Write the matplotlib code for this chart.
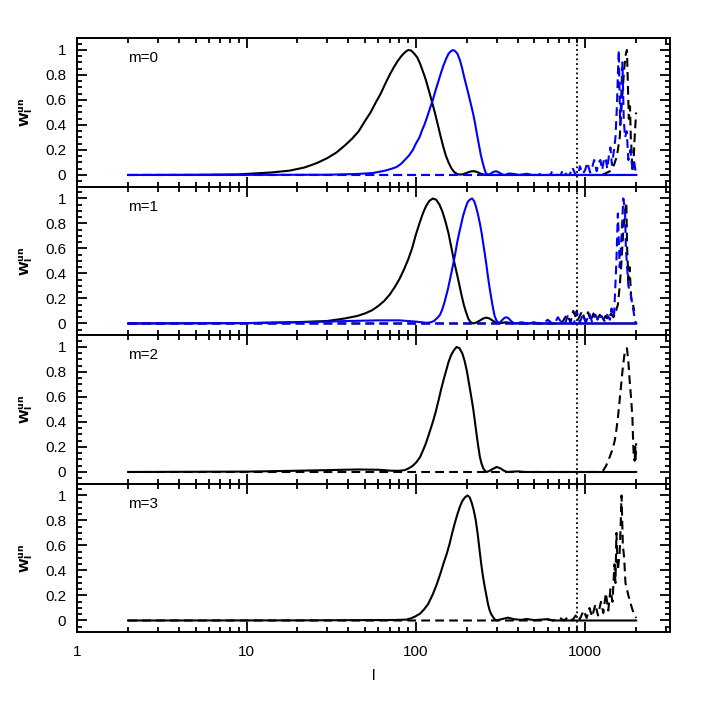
import numpy as np
import matplotlib
matplotlib.use("Agg")
import matplotlib.pyplot as plt
from matplotlib.ticker import LogLocator, FixedLocator, MultipleLocator, FuncFormatter, NullFormatter

plt.rcParams['font.family'] = ['Liberation Sans', 'DejaVu Sans']

# ---- data (l, W_l^un) ----
# m=0
l_m0_black = [2, 5, 9, 14, 18, 22, 26, 30, 34, 38, 42, 46, 50, 54, 58, 62, 66, 70, 74, 78, 82, 86, 90, 94, 98,
              102, 106, 110, 114, 118, 122, 126, 130, 135, 140, 145, 150, 156, 162, 168, 175, 182, 190, 198,
              206, 214, 222, 230, 240, 250, 261, 2000]
w_m0_black = [0, 0.001, 0.005, 0.02, 0.035, 0.06, 0.095, 0.135, 0.18, 0.235, 0.29, 0.35, 0.43, 0.5, 0.58, 0.65,
              0.73, 0.8, 0.86, 0.91, 0.95, 0.98, 1.0, 0.995, 0.97, 0.94, 0.89, 0.83, 0.77, 0.7, 0.63, 0.56, 0.49,
              0.4, 0.31, 0.23, 0.16, 0.1, 0.055, 0.025, 0.008, 0.003, 0.006, 0.015, 0.024, 0.03, 0.03, 0.024,
              0.012, 0.004, 0, 0]
l_m0_blue = [2, 30, 45, 56, 66, 72, 77, 82, 86, 91, 96, 100, 105, 109, 113, 117, 121, 126, 131, 136, 141, 146,
             151, 156, 161, 166, 171, 176, 182, 188, 194, 200, 206, 212, 218, 224, 230, 236, 242, 248, 254, 259,
             266, 275, 287, 298, 310, 322, 335, 355, 380, 410, 450, 490, 2000]
w_m0_blue = [0, 0.002, 0.008, 0.016, 0.035, 0.05, 0.064, 0.09, 0.12, 0.155, 0.2, 0.25, 0.3, 0.36, 0.41, 0.47,
             0.53, 0.6, 0.68, 0.75, 0.82, 0.88, 0.93, 0.97, 0.99, 1.0, 0.99, 0.97, 0.92, 0.85, 0.77, 0.7, 0.63,
             0.56, 0.49, 0.41, 0.32, 0.24, 0.16, 0.1, 0.05, 0.015, 0.003, 0.008, 0.025, 0.03, 0.02, 0.006, 0,
             0.012, 0.008, 0, 0.01, 0, 0]
l_m0_black_dash = [2, 1250, 1300, 1400, 1480, 1540, 1600, 1650, 1700, 1740, 1765, 1790, 1810, 1840, 1860, 1880,
                   1900, 1930, 1960, 2000]
w_m0_black_dash = [0, 0, 0.01, 0.03, 0.08, 0.15, 0.3, 0.6, 0.85, 0.97, 1.0, 0.7, 0.45, 0.55, 0.3, 0.2, 0.03,
                   0.1, 0.3, 0.5]
l_m0_blue_dash = [2, 440, 457, 475, 530, 550, 580, 620, 640, 680, 715, 740, 780, 810, 840, 880, 910, 930, 970,
                  1000, 1030, 1070, 1100, 1130, 1170, 1200, 1230, 1260, 1290, 1320, 1350, 1380, 1410, 1440, 1480,
                  1510, 1540, 1560, 1580, 1610, 1640, 1660, 1690, 1720, 1760, 1800, 1850, 1900, 1950, 2000]
w_m0_blue_dash = [0, 0, 0.01, 0, 0, 0.015, 0, 0, 0.03, 0, 0, 0.04, 0, 0, 0.06, 0, 0, 0.07, 0.01, 0.04, 0.1,
                  0.02, 0.06, 0.12, 0.03, 0.1, 0.12, 0.04, 0.12, 0.14, 0.05, 0.15, 0.22, 0.08, 0.2, 0.3, 0.55,
                  0.8, 1.0, 0.4, 0.7, 0.9, 0.45, 0.3, 0.35, 0.12, 0.2, 0.05, 0.1, 0]

# m=1
l_m1_black = [2, 10, 19, 30, 38, 45, 50, 55, 60, 65, 70, 75, 80, 85, 90, 95, 100, 105, 110, 115, 120, 126, 132,
              138, 144, 150, 156, 162, 168, 174, 180, 186, 192, 198, 204, 210, 218, 228, 240, 250, 261, 272,
              283, 295, 310, 340, 380, 2000]
w_m1_black = [0, 0.003, 0.01, 0.02, 0.04, 0.06, 0.08, 0.105, 0.14, 0.18, 0.23, 0.29, 0.355, 0.43, 0.51, 0.6,
              0.71, 0.8, 0.88, 0.94, 0.98, 1.0, 0.99, 0.95, 0.89, 0.81, 0.72, 0.61, 0.5, 0.41, 0.32, 0.23, 0.15,
              0.09, 0.04, 0.012, 0, 0.008, 0.025, 0.04, 0.047, 0.04, 0.025, 0.01, 0, 0.01, 0, 0]
l_m1_blue = [2, 10, 25, 40, 60, 80, 100, 116, 123, 128, 134, 139, 143, 147, 151, 155, 159, 163, 167, 171, 175,
             180, 185, 190, 196, 202, 208, 215, 221, 227, 233, 239, 245, 250, 256, 261, 267, 273, 280, 286, 292,
             298, 306, 315, 325, 334, 343, 354, 365, 377, 390, 420, 460, 500, 540, 2000]
w_m1_blue = [0, 0.003, 0.012, 0.02, 0.025, 0.025, 0.015, 0.005, 0.01, 0.02, 0.045, 0.07, 0.11, 0.16, 0.22, 0.28,
             0.35, 0.42, 0.49, 0.56, 0.64, 0.72, 0.79, 0.86, 0.92, 0.97, 0.99, 1.0, 0.98, 0.93, 0.87, 0.8, 0.72,
             0.64, 0.55, 0.47, 0.37, 0.28, 0.19, 0.12, 0.06, 0.03, 0.005, 0.01, 0.03, 0.045, 0.05, 0.04, 0.02,
             0.005, 0, 0.01, 0, 0.008, 0, 0]
l_m1_black_dash = [2, 700, 740, 780, 820, 850, 900, 960, 1000, 1040, 1080, 1120, 1170, 1220, 1270, 1320, 1370,
                   1420, 1470, 1520, 1560, 1600, 1640, 1680, 1720, 1750, 1770, 1800, 1830, 1870, 1900, 1950]
w_m1_black_dash = [0, 0, 0.02, 0.07, 0.01, 0.1, 0.02, 0.1, 0.02, 0.09, 0.02, 0.08, 0.02, 0.07, 0.02, 0.06, 0.03,
                   0.08, 0.05, 0.1, 0.15, 0.3, 0.5, 0.75, 0.9, 0.97, 0.6, 0.35, 0.45, 0.2, 0.18, 0.1]
l_m1_blue_dash = [2, 400, 470, 490, 520, 570, 600, 640, 660, 690, 730, 760, 790, 830, 860, 890, 930, 970, 1010,
                  1060, 1100, 1150, 1200, 1250, 1300, 1350, 1400, 1430, 1480, 1530, 1560, 1600, 1640, 1680,
                  1720, 1740, 1800, 1850, 1900, 1940, 1970, 2000]
w_m1_blue_dash = [0, 0, 0, 0.01, 0, 0, 0.03, 0, 0, 0.05, 0, 0, 0.06, 0, 0, 0.1, 0.01, 0.07, 0.01, 0.08, 0.01,
                  0.07, 0.02, 0.06, 0.02, 0.07, 0.03, 0.12, 0.05, 0.5, 0.88, 0.45, 0.7, 1.0, 0.9, 0.6, 0.3,
                  0.25, 0.15, 0.08, 0.02, 0]

# m=2
l_m2_black = [2, 10, 20, 30, 45, 60, 72, 80, 86, 91, 96, 101, 106, 110, 114, 118, 122, 126, 131, 136, 141, 146,
              151, 156, 161, 167, 174, 181, 188, 194, 200, 206, 212, 218, 224, 229, 234, 239, 244, 250, 256,
              262, 272, 285, 300, 315, 330, 345, 400, 440, 2000]
w_m2_black = [0, 0.003, 0.01, 0.015, 0.02, 0.018, 0.01, 0.01, 0.015, 0.03, 0.05, 0.08, 0.12, 0.17, 0.22, 0.28,
              0.34, 0.4, 0.48, 0.57, 0.66, 0.74, 0.81, 0.88, 0.93, 0.97, 1.0, 0.99, 0.95, 0.89, 0.81, 0.71,
              0.61, 0.51, 0.39, 0.29, 0.2, 0.12, 0.07, 0.03, 0.01, 0, 0.008, 0.025, 0.04, 0.03, 0.012, 0,
              0.005, 0, 0]
l_m2_black_dash = [2, 1200, 1275, 1330, 1396, 1450, 1495, 1530, 1563, 1600, 1635, 1670, 1710, 1765, 1800, 1832,
                   1870, 1900, 1920, 1933, 1960, 1975, 1985, 2000]
w_m2_black_dash = [0, 0, 0.01, 0.05, 0.12, 0.18, 0.25, 0.34, 0.44, 0.58, 0.71, 0.84, 0.95, 0.99, 0.88, 0.73,
                   0.58, 0.44, 0.25, 0.15, 0.09, 0.2, 0.1, 0.23]

# m=3
l_m3_black = [2, 20, 50, 75, 88, 94, 100, 106, 112, 118, 126, 133, 140, 146, 152, 158, 164, 170, 176, 182, 188,
              195, 202, 208, 214, 220, 226, 232, 238, 244, 250, 256, 261, 267, 273, 279, 285, 292, 298, 320,
              350, 380, 420, 450, 500, 590, 640, 2000]
w_m3_black = [0, 0.001, 0.003, 0.004, 0.007, 0.018, 0.035, 0.055, 0.09, 0.13, 0.21, 0.29, 0.38, 0.46, 0.53,
              0.61, 0.7, 0.78, 0.85, 0.91, 0.955, 0.985, 1.0, 0.985, 0.94, 0.88, 0.8, 0.69, 0.56, 0.44, 0.34,
              0.26, 0.2, 0.13, 0.08, 0.05, 0.03, 0.01, 0, 0.01, 0.023, 0.01, 0.005, 0.012, 0.003, 0.01, 0, 0]
l_m3_black_dash = [2, 560, 600, 650, 710, 750, 800, 840, 890, 930, 980, 1020, 1060, 1100, 1150, 1190, 1240,
                   1280, 1325, 1370, 1410, 1450, 1490, 1510, 1530, 1560, 1600, 1620, 1640, 1670, 1700, 1730,
                   1765, 1800, 1870, 1930, 2000]
w_m3_black_dash = [0, 0, 0.01, 0, 0.02, 0, 0.03, 0, 0.05, 0.01, 0.08, 0.02, 0.1, 0.03, 0.13, 0.04, 0.15, 0.06,
                   0.22, 0.08, 0.25, 0.15, 0.45, 0.3, 0.7, 0.4, 0.55, 0.75, 1.0, 0.6, 0.5, 0.3, 0.25, 0.2,
                   0.12, 0.06, 0.02]

panel_labels = ["m=0", "m=1", "m=2", "m=3"]
l_cut = 900
blue = "#0000FF"

fig, axes = plt.subplots(4, 1, figsize=(7.08, 7.08), dpi=100, sharex=True)
fig.subplots_adjust(left=0.109, right=0.946, top=0.946, bottom=0.107, hspace=0)

panels = [
    [(l_m0_black, w_m0_black, 'k', '-'), (l_m0_black_dash, w_m0_black_dash, 'k', '--'),
     (l_m0_blue, w_m0_blue, blue, '-'), (l_m0_blue_dash, w_m0_blue_dash, blue, '--')],
    [(l_m1_black, w_m1_black, 'k', '-'), (l_m1_black_dash, w_m1_black_dash, 'k', '--'),
     (l_m1_blue, w_m1_blue, blue, '-'), (l_m1_blue_dash, w_m1_blue_dash, blue, '--')],
    [(l_m2_black, w_m2_black, 'k', '-'), (l_m2_black_dash, w_m2_black_dash, 'k', '--')],
    [(l_m3_black, w_m3_black, 'k', '-'), (l_m3_black_dash, w_m3_black_dash, 'k', '--')],
]

for i, (ax, curves) in enumerate(zip(axes, panels)):
    for l, w, c, ls in curves:
        if ls == '--':
            ax.plot(l, w, color=c, lw=1.5, dashes=(4.2, 2.5))
        else:
            ax.plot(l, w, color=c, lw=1.5)
    ax.axvline(l_cut, color='k', lw=1.3, linestyle=(0, (1, 1.6)))
    ax.set_xscale('log')
    ax.set_xlim(1, 3160)
    ax.set_ylim(-0.094, 1.094)
    ax.yaxis.set_major_locator(FixedLocator([0, 0.2, 0.4, 0.6, 0.8, 1.0]))
    ax.yaxis.set_major_formatter(FuncFormatter(lambda v, p: '%g' % v))
    ax.yaxis.set_minor_locator(MultipleLocator(0.05))
    ax.xaxis.set_major_locator(LogLocator(base=10, numticks=10))
    ax.xaxis.set_minor_locator(LogLocator(base=10, subs=np.arange(2, 10), numticks=10))
    ax.xaxis.set_minor_formatter(NullFormatter())
    ax.xaxis.set_major_formatter(FuncFormatter(lambda v, p: '%d' % round(v)))
    ax.tick_params(which='both', direction='in', top=True, right=True, width=1.3, labelsize=11)
    ax.tick_params(which='major', length=7.5)
    ax.tick_params(which='minor', length=3.6)
    ax.tick_params(axis='y', pad=8)
    ax.tick_params(axis='x', pad=9)
    for s in ax.spines.values():
        s.set_linewidth(1.4)
    ax.set_ylabel(r'$\mathbf{W_l^{un}}$', fontsize=9.5)
    ax.yaxis.set_label_coords(-0.072, 0.5)
    ax.text(0.086, 0.865, panel_labels[i], transform=ax.transAxes, fontsize=11, va='center', ha='left')
    if i < 3:
        ax.tick_params(axis='x', labelbottom=False)

axes[-1].set_xlabel('l', fontsize=11)
axes[-1].xaxis.set_label_coords(0.5, -0.25)

fig.savefig('out.png', dpi=100)
